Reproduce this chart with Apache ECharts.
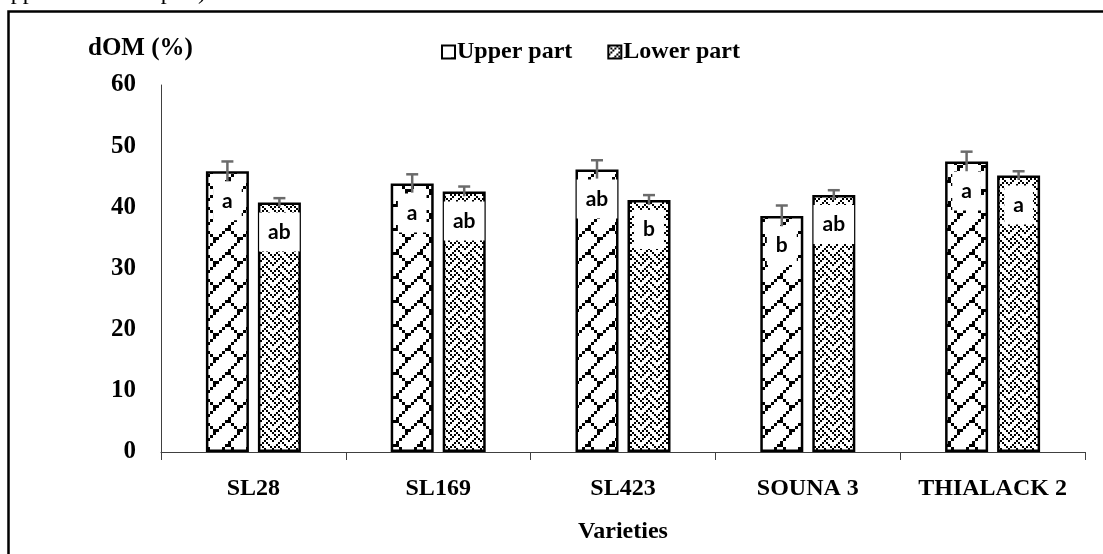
<!DOCTYPE html>
<html>
<head>
<meta charset="utf-8">
<script src="https://cdn.jsdelivr.net/npm/echarts@6/dist/echarts.min.js"></script>
<style>
  html, body { margin: 0; padding: 0; background: #fff; }
  #chart { width: 1103px; height: 554px; }
</style>
</head>
<body>
<div id="chart"></div>
<script>
// data
const varieties = ['SL28', 'SL169', 'SL423', 'SOUNA 3', 'THIALACK 2'];
const upperPart = [45.9, 43.9, 46.2, 38.6, 47.5];
const lowerPart = [40.8, 42.6, 41.2, 42.0, 45.2];
const upperErr = [1.6, 1.5, 1.5, 1.7, 1.6];
const lowerErr = [0.7, 0.8, 0.8, 0.8, 0.7];
const upperLetters = ['a', 'a', 'ab', 'b', 'a'];
const lowerLetters = ['ab', 'ab', 'b', 'ab', 'a'];

const BAR_W = 43;
const BAR_GAP = 9;

// 8x8 hatch bitmaps, each bit drawn s x s
function makePattern(rows, s) {
    const c = document.createElement('canvas');
    c.width = 8 * s;
    c.height = 8 * s;
    const ctx = c.getContext('2d');
    ctx.fillStyle = '#fff';
    ctx.fillRect(0, 0, c.width, c.height);
    ctx.fillStyle = '#000';
    rows.forEach((r, y) => {
        for (let x = 0; x < 8; x++) {
            if (r & (0x80 >> x)) ctx.fillRect(x * s, y * s, s, s);
        }
    });
    return { image: c, repeat: 'repeat' };
}
// diagonal brick / weave
const brick = makePattern([0x01, 0x02, 0x04, 0x08, 0x18, 0x24, 0x42, 0x81], 3);
const weave = makePattern([0x88, 0x54, 0x22, 0x45, 0x88, 0x14, 0x22, 0x51], 2);

const serif = '"Liberation Serif", "Times New Roman", serif';

function labelOf(letters) {
    return {
        show: true,
        position: 'insideTop',
        distance: 10,
        formatter: p => letters[p.dataIndex],
        backgroundColor: '#fff',
        padding: [9, 9],
        fontFamily: 'Lato, "Open Sans", sans-serif',
        fontWeight: 'bold',
        fontSize: 21,
        lineHeight: 21,
        color: '#000'
    };
}

// error bars: side = -1 for left bar, +1 for right bar
function errSeries(vals, errs, side) {
    return {
        type: 'custom',
        z: 3,
        silent: true,
        data: vals.map((v, i) => [i, v, errs[i]]),
        renderItem: (params, api) => {
            const i = api.value(0), v = api.value(1), e = api.value(2);
            const off = side * (BAR_W + BAR_GAP) / 2;
            const hi = api.coord([i, v + e]);
            const lo = api.coord([i, v - e]);
            const x = hi[0] + off;
            const style = { stroke: '#6b6b6b', lineWidth: 2.5 };
            return {
                type: 'group',
                children: [
                    { type: 'line', shape: { x1: x, y1: lo[1], x2: x, y2: hi[1] }, style },
                    { type: 'line', shape: { x1: x - 6, y1: hi[1], x2: x + 6, y2: hi[1] }, style }
                ]
            };
        }
    };
}

const chart = echarts.init(document.getElementById('chart'));

chart.setOption({
    animation: false,
    backgroundColor: '#fff',
    grid: { left: 161, right: 18, top: 85, bottom: 102 },
    legend: {
        left: 436,
        top: 35,
        icon: 'rect',
        itemWidth: 13,
        itemHeight: 13,
        itemGap: 35,
        itemStyle: { borderColor: '#000', borderWidth: 2 },
        textStyle: { fontFamily: serif, fontWeight: 'bold', fontSize: 24, color: '#000', padding: [0, 0, 0, -3] },
        data: ['Upper part', 'Lower part']
    },
    xAxis: {
        type: 'category',
        data: varieties,
        axisLine: { lineStyle: { color: '#404040', width: 1 } },
        axisTick: { show: true, length: 8, lineStyle: { color: '#404040' } },
        axisLabel: { interval: 0, margin: 25, fontFamily: serif, fontWeight: 'bold', fontSize: 24, color: '#000' },
        name: 'Varieties',
        nameLocation: 'middle',
        nameGap: 68,
        nameTextStyle: { fontFamily: serif, fontWeight: 'bold', fontSize: 24, color: '#000' }
    },
    yAxis: {
        type: 'value',
        min: 0,
        max: 60,
        interval: 10,
        splitLine: { show: false },
        axisLine: { show: true, lineStyle: { color: '#404040', width: 1 } },
        axisTick: { show: false },
        axisLabel: { margin: 25, fontFamily: serif, fontWeight: 'bold', fontSize: 25, color: '#000' }
    },
    graphic: [
        {
            type: 'rect',
            shape: { x: 8.5, y: 11.5, width: 1110, height: 560 },
            style: { fill: null, stroke: '#000', lineWidth: 2.5 },
            silent: true
        },
        {
            type: 'text',
            left: 88,
            top: 36,
            style: { text: 'dOM (%)', font: 'bold 25px ' + serif, fill: '#000' }
        },
        {
            type: 'text',
            x: 212,
            y: -19,
            style: { text: '(upper and lower part).', font: '24px ' + serif, fill: '#000', textAlign: 'right' }
        }
    ],
    series: [
        {
            name: 'Upper part',
            type: 'bar',
            data: upperPart,
            barWidth: BAR_W,
            barGap: (BAR_GAP / BAR_W * 100) + '%',
            itemStyle: { color: brick, borderColor: '#000', borderWidth: 2.5 },
            label: labelOf(upperLetters),
            z: 2
        },
        {
            name: 'Lower part',
            type: 'bar',
            data: lowerPart,
            barWidth: BAR_W,
            itemStyle: { color: weave, borderColor: '#000', borderWidth: 2.5 },
            label: labelOf(lowerLetters),
            z: 2
        },
        errSeries(upperPart, upperErr, -1),
        errSeries(lowerPart, lowerErr, 1)
    ]
});
</script>
</body>
</html>
